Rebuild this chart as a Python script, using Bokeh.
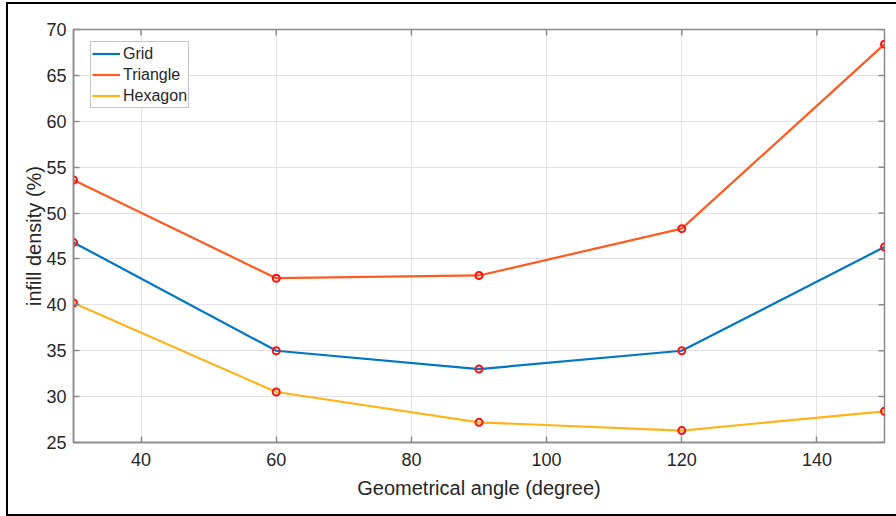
import math
from bokeh.plotting import figure
from bokeh.models import Legend, LegendItem, FixedTicker
from bokeh.embed import file_html
from bokeh.resources import INLINE

angles = [30, 60, 90, 120, 150]
grid = [46.8, 35.0, 33.0, 35.0, 46.3]
triangle = [53.6, 42.9, 43.2, 48.3, 68.4]
hexagon = [40.2, 30.5, 27.2, 26.3, 28.4]
series_names = ["Grid", "Triangle", "Hexagon"]
series_colors = ["#0076C4", "#FF5A1F", "#FFB318"]
x_ticks = [40, 60, 80, 100, 120, 140]
y_ticks = [25, 30, 35, 40, 45, 50, 55, 60, 65, 70]
x_min, x_max = 30, 150
y_min, y_max = 25, 70

FONT = "Liberation Sans"
TXT = "#262626"
AX = "#8a8a8a"

p = figure(frame_width=811, frame_height=413, x_range=(x_min, x_max), y_range=(y_min, y_max),
           min_border_left=65, min_border_right=12, min_border_top=25, min_border_bottom=72,
           output_backend="svg", toolbar_location=None)
p.styles = {"border-top": "2px solid black", "border-left": "2px solid black",
            "border-bottom": "2px solid black", "margin-left": "6px", "margin-top": "2px"}
p.outline_line_color = AX
p.outline_line_width = 1.5

for ax in (p.xaxis[0], p.yaxis[0]):
    ax.major_tick_in = 6
    ax.major_tick_out = 0
    ax.minor_tick_in = 0
    ax.minor_tick_out = 0
    ax.axis_line_color = AX
    ax.axis_line_width = 1.5
    ax.major_tick_line_color = AX
    ax.major_tick_line_width = 1.5
    ax.major_label_text_font = FONT
    ax.major_label_text_font_size = "18px"
    ax.major_label_text_color = TXT
    ax.axis_label_text_font = FONT
    ax.axis_label_text_font_size = "20px"
    ax.axis_label_text_font_style = "normal"
    ax.axis_label_text_color = TXT

p.xaxis[0].ticker = FixedTicker(ticks=x_ticks)
p.yaxis[0].ticker = FixedTicker(ticks=y_ticks)
p.xaxis[0].axis_label = "Geometrical angle (degree)"
p.yaxis[0].axis_label = "infill density (%)"
p.xaxis[0].major_label_standoff = 10
p.yaxis[0].major_label_standoff = 7
p.xaxis[0].axis_label_standoff = 8
p.yaxis[0].axis_label_standoff = -2

# inward ticks on the top and right edges of the box (clipped to the frame)
p.scatter(x_ticks, [y_max] * len(x_ticks), marker="dash", angle=math.pi / 2, size=12,
          line_color=AX, line_width=1.5)
p.scatter([x_max] * len(y_ticks), y_ticks, marker="dash", size=12,
          line_color=AX, line_width=1.5)

p.xgrid.ticker = FixedTicker(ticks=x_ticks)
p.ygrid.ticker = FixedTicker(ticks=y_ticks)
p.grid.grid_line_color = "#e3e3e3"
p.grid.grid_line_width = 1

items = []
for name, vals, col in zip(series_names, [grid, triangle, hexagon], series_colors):
    r = p.line(angles, vals, line_color=col, line_width=2.2)
    p.scatter(angles, vals, marker="circle", size=7, fill_color=None,
              line_color="#ff1010", line_width=2)
    items.append(LegendItem(label=name, renderers=[r]))

leg = Legend(items=items, location=(17, 334), orientation="vertical",
             label_text_font=FONT, label_text_font_size="16px", label_text_color=TXT,
             glyph_width=28, glyph_height=21, label_height=21, label_standoff=3,
             spacing=0, padding=1, margin=0, border_line_color="#8a8a8a",
             border_line_width=1.5, background_fill_alpha=1)
p.add_layout(leg)

open("out.html", "w").write(file_html(p, INLINE))
